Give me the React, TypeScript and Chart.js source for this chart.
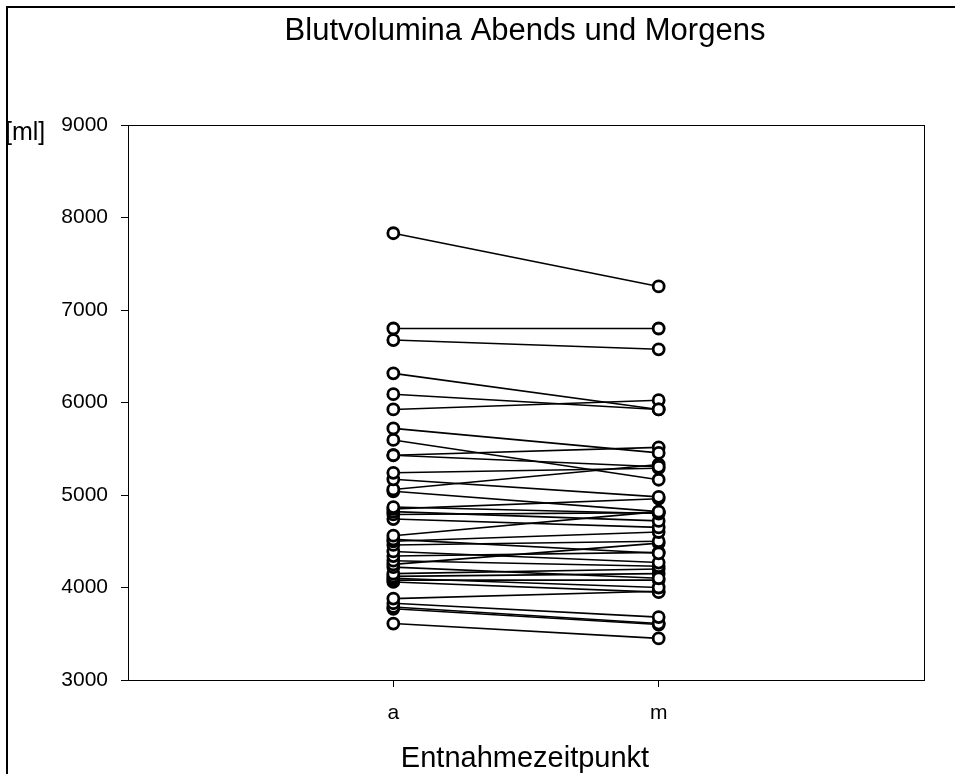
import React, { useEffect, useRef } from 'react';
import { Chart, registerables } from 'chart.js';

Chart.register(...registerables);

const categories = ['a', 'm'];
const abends = [
  7830, 6800, 6675, 6315, 6090, 5925, 5720, 5595, 5430, 5430,
  5240, 5170, 5060, 5040, 4870, 4850, 4820, 4790, 4740, 4560,
  4520, 4500, 4460, 4390, 4340, 4290, 4250, 4220, 4150, 4120,
  4100, 4080, 4060, 3880, 3830, 3790, 3770, 3610,
];
const morgens = [
  7255, 6800, 6575, 5925, 5925, 6025, 5455, 5165, 5515, 5305,
  5290, 4980, 5330, 4820, 4800, 4960, 4720, 4810, 4650, 4820,
  4370, 4600, 4500, 4270, 4380, 4230, 4480, 4100, 4200, 4150,
  4000, 4080, 3950, 3960, 3680, 3610, 3600, 3450,
];
const yMin = 3000;
const yMax = 9000;
const yStep = 1000;
const titleText = 'Blutvolumina Abends und Morgens';
const yUnitText = '[ml]';
const xTitleText = 'Entnahmezeitpunkt';

const FONT = '"Liberation Sans", Arial, sans-serif';

const textPlugin = {
  id: 'texts',
  afterDraw(chart: any) {
    const { ctx, chartArea } = chart;
    const cx = (chartArea.left + chartArea.right) / 2;
    ctx.save();
    ctx.strokeStyle = '#000';
    ctx.lineWidth = 1;
    ctx.strokeRect(chartArea.left + 0.5, chartArea.top + 0.5, chartArea.right - chartArea.left, chartArea.bottom - chartArea.top);
    ctx.fillStyle = '#000';
    ctx.textBaseline = 'alphabetic';
    ctx.textAlign = 'center';
    ctx.font = `31px ${FONT}`;
    ctx.fillText(titleText, cx - 1, 40);
    ctx.font = `29px ${FONT}`;
    ctx.fillText(xTitleText, cx - 1, 767);
    ctx.textAlign = 'left';
    ctx.font = `25px ${FONT}`;
    ctx.fillText(yUnitText, 5, 140);
    ctx.restore();
  },
};

export default function App() {
  const ref = useRef<HTMLCanvasElement | null>(null);
  useEffect(() => {
    document.body.style.margin = '0';
    const canvas = ref.current;
    if (!canvas) return;
    const datasets = abends.map((a, i) => ({
      data: [
        { x: 1, y: a },
        { x: 2, y: morgens[i] },
      ],
      borderColor: '#000',
      borderWidth: 1.6,
      pointRadius: 5.5,
      pointBorderWidth: 2.8,
      pointBackgroundColor: '#fff',
      pointBorderColor: '#000',
      showLine: true,
      fill: false,
    }));
    const chart = new Chart(canvas, {
      type: 'line',
      data: { datasets },
      plugins: [textPlugin],
      options: {
        responsive: false,
        animation: false,
        events: [],
        layout: { padding: { top: 125, right: 31, left: 0, bottom: 0 } },
        plugins: { legend: { display: false }, tooltip: { enabled: false }, title: { display: false } },
        scales: {
          x: {
            type: 'linear',
            min: 0,
            max: 3,
            afterBuildTicks: (s: any) => {
              s.ticks = categories.map((_, i) => ({ value: i + 1 }));
            },
            afterFit: (s: any) => {
              s.height = 94;
            },
            grid: { drawOnChartArea: false, color: '#000', tickLength: 7, lineWidth: 1 },
            border: { color: '#000', width: 1 },
            ticks: {
              color: '#000',
              font: { family: FONT, size: 21 },
              padding: 14,
              maxRotation: 0,
              callback: (v: any) => categories[Number(v) - 1] ?? '',
            },
          },
          y: {
            type: 'linear',
            min: yMin,
            max: yMax,
            afterFit: (s: any) => {
              s.width = 128;
            },
            grid: { drawOnChartArea: false, color: '#000', tickLength: 7, lineWidth: 1 },
            border: { color: '#000', width: 1 },
            ticks: {
              stepSize: yStep,
              color: '#000',
              font: { family: FONT, size: 21 },
              padding: 13,
              callback: (v: any) => String(v),
            },
          },
        },
      },
    });
    return () => chart.destroy();
  }, []);
  return (
    <div style={{ position: 'absolute', left: 0, top: 0, width: 955, height: 774, overflow: 'hidden', background: '#fff' }}>
      <div style={{ position: 'absolute', left: 6, top: 6, width: 1000, height: 1000, border: '2px solid #000' }} />
      <canvas ref={ref} width={955} height={774} style={{ position: 'absolute', left: 0, top: 0 }} />
    </div>
  );
}
